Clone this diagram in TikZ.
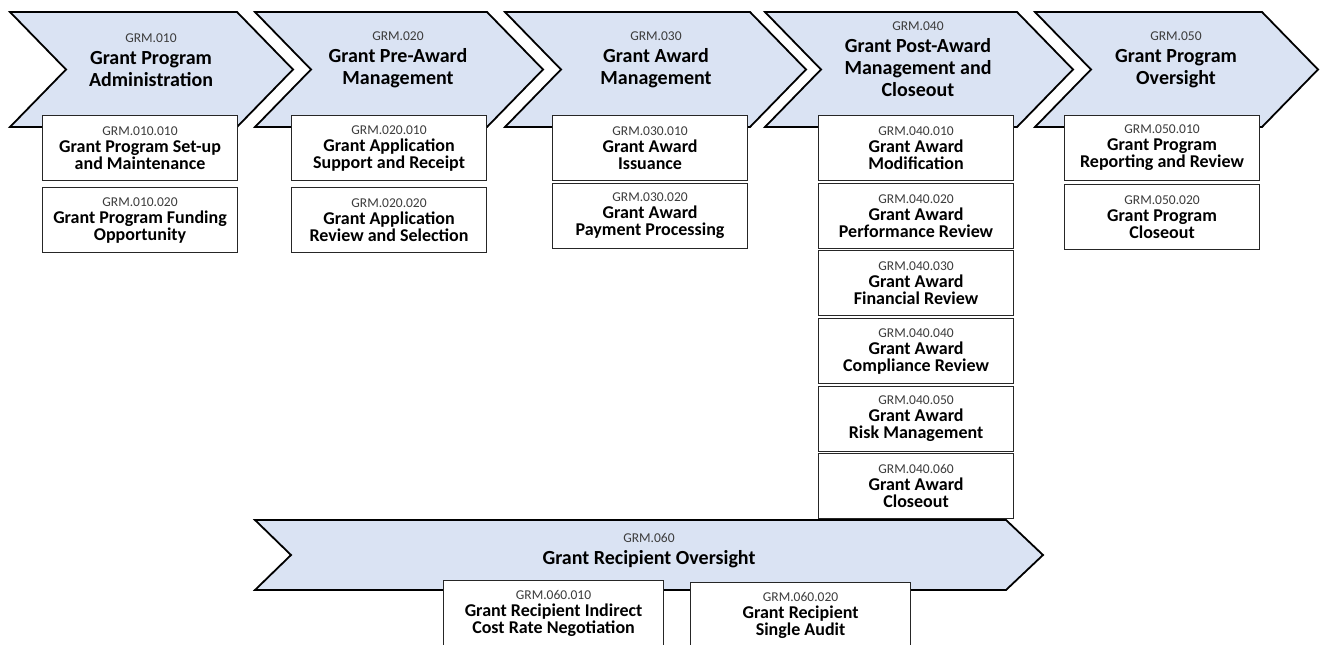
\documentclass[tikz,border=0pt]{standalone}
\usepackage{fontspec}
\setmainfont{Carlito}
\usetikzlibrary{positioning}
\definecolor{stageblue}{RGB}{218,227,243}
\definecolor{codegray}{RGB}{60,60,60}
\newcommand{\grmcode}[1]{{\fontsize{13.5}{14}\selectfont\mdseries\color{codegray}#1}}

\tikzset{
  stage/.style={draw=black,line width=1.8pt,fill=stageblue,line join=miter},
  stagetext/.style={align=center,font=\fontsize{20}{22}\selectfont\bfseries},
  task/.style={draw=black!85,line width=1.1pt,fill=white,anchor=north west,
    minimum width=195pt,minimum height=65pt,inner sep=0pt,align=center,
    font=\fontsize{18}{17}\selectfont\bfseries},
  widetask/.style={task,minimum width=220pt}
}

\begin{document}
\setlength{\lineskiplimit}{-20pt}
\begin{tikzpicture}[x=1pt,y=-1pt]
        \useasboundingbox[fill=white] (0,0) rectangle (1323,645);

        % Stage 010
        \draw[stage] (10,12) -- (237,12) -- (293,69.5) -- (237,127) -- (10,127) -- (66,69.5) -- cycle;
        \node[stagetext] (s1) at (151,60) {\grmcode{GRM.010}\\Grant Program\\Administration};
        \node[task] (t11) at (42,115) {\grmcode{GRM.010.010}\\Grant Program Set-up\\and Maintenance};
        \node[task] (t12) at (42,187) {\grmcode{GRM.010.020}\\Grant Program Funding\\Opportunity};

        % Stage 020
        \draw[stage] (255,12) -- (487,12) -- (543,69.5) -- (487,127) -- (255,127) -- (311,69.5) -- cycle;
        \node[stagetext] (s2) at (398,60) {\grmcode{GRM.020}\\Grant Pre-Award\\Management};
        \node[task] (t21) at (291,115) {\grmcode{GRM.020.010}\\Grant Application\\Support and Receipt};
        \node[task] (t22) at (291,187) {\grmcode{GRM.020.020}\\Grant Application\\Review and Selection};

        % Stage 030
        \draw[stage] (505,12) -- (750,12) -- (806,69.5) -- (750,127) -- (505,127) -- (561,69.5) -- cycle;
        \node[stagetext] (s3) at (656,60) {\grmcode{GRM.030}\\Grant Award\\Management};
        \node[task] (t31) at (552,115) {\grmcode{GRM.030.010}\\Grant Award\\Issuance};
        \node[task] (t32) at (552,183) {\grmcode{GRM.030.020}\\Grant Award\\Payment Processing};

        % Stage 040
        \draw[stage] (765,12) -- (1017,12) -- (1073,69.5) -- (1017,127) -- (765,127) -- (821,69.5) -- cycle;
        \node[stagetext] (s4) at (918,59) {\grmcode{GRM.040}\\Grant Post-Award\\Management and\\Closeout};
        \node[task] (t41) at (818,115) {\grmcode{GRM.040.010}\\Grant Award\\Modification};
        \node[task] (t42) at (818,183) {\grmcode{GRM.040.020}\\Grant Award\\Performance Review};
        \node[task] (t43) at (818,250) {\grmcode{GRM.040.030}\\Grant Award\\Financial Review};
        \node[task] (t44) at (818,318) {\grmcode{GRM.040.040}\\Grant Award\\Compliance Review};
        \node[task] (t45) at (818,386) {\grmcode{GRM.040.050}\\Grant Award\\Risk Management};
        \node[task] (t46) at (818,453) {\grmcode{GRM.040.060}\\Grant Award\\Closeout};

        % Stage 050
        \draw[stage] (1035,12) -- (1262,12) -- (1318,69.5) -- (1262,127) -- (1035,127) -- (1091,69.5) -- cycle;
        \node[stagetext] (s5) at (1176,60) {\grmcode{GRM.050}\\Grant Program\\Oversight};
        \node[task] (t51) at (1064,115) {\grmcode{GRM.050.010}\\Grant Program\\Reporting and Review};
        \node[task] (t52) at (1064,184) {\grmcode{GRM.050.020}\\Grant Program\\Closeout};

        % Stage 060
        \draw[stage] (255,520) -- (1006,520) -- (1043,555) -- (1006,590) -- (255,590) -- (291,555) -- cycle;
        \node[stagetext] (s6) at (649,551) {\grmcode{GRM.060}\\Grant Recipient Oversight};
        \node[widetask] (t61) at (443,580) {\grmcode{GRM.060.010}\\Grant Recipient Indirect\\Cost Rate Negotiation};
        \node[widetask] (t62) at (690,582) {\grmcode{GRM.060.020}\\Grant Recipient\\Single Audit};
    \end{tikzpicture}
\end{document}
